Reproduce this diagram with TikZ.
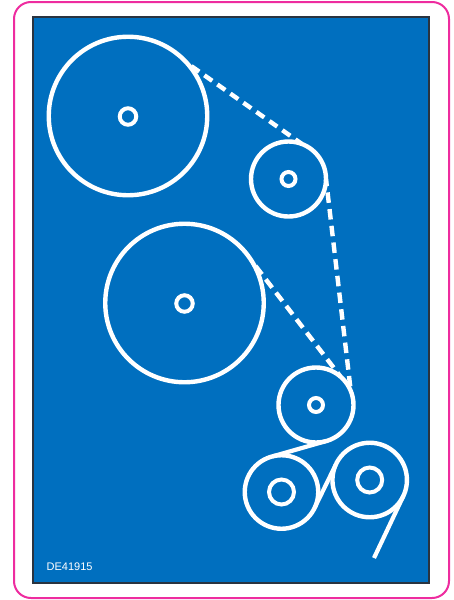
\documentclass[tikz,border=0pt]{standalone}
\usepackage{fontspec}
\setmainfont{Liberation Sans}
\definecolor{panelblue}{HTML}{006FBF}
\definecolor{trim}{HTML}{EE2C9F}
\definecolor{edge}{HTML}{2A3440}
\tikzset{
  wheel/.style={circle,draw=white,line width=4.4pt,inner sep=0pt,outer sep=0pt,minimum size=#1},
  hub/.style={circle,draw=white,line width=4pt,inner sep=0pt,outer sep=0pt,minimum size=#1},
  belt/.style={draw=white,line width=4.2pt},
  slack/.style={draw=white,line width=4.4pt,dash pattern=on 10.5pt off 6.3pt},
}
\begin{document}
\begin{tikzpicture}[x=1pt,y=-1pt]
\useasboundingbox (0,0) rectangle (454,600);
\fill[white] (0,0) rectangle (454,600);
\draw[trim,line width=2pt,rounded corners=17pt] (14,2) rectangle (449,598);
\fill[panelblue,draw=edge,line width=1.4pt] (33,17) rectangle (429,583);
\node[wheel=158.5pt] (big1) at (128,116) {};
\node[hub=16.5pt] (hub1) at (128,116.5) {};
\node[wheel=75pt] (mid1) at (288.5,179) {};
\node[hub=14pt] (hub2) at (288.5,179) {};
\node[wheel=158.5pt] (big2) at (184.5,303) {};
\node[hub=16.5pt] (hub3) at (184.5,303.5) {};
\node[wheel=75pt] (mid2) at (316,405) {};
\node[hub=14pt] (hub4) at (316,405) {};
\node[wheel=73.5pt] (low1) at (281.5,492) {};
\node[hub=25pt] (hub5) at (281.5,492) {};
\node[wheel=74.5pt] (low2) at (369.7,480) {};
\node[hub=25pt] (hub6) at (369.7,480) {};
\coordinate (tail) at (374,558);
\path[slack,dash pattern=on 9.6pt off 6.3pt,dash phase=10.4pt] (big1.42) -- (mid1.69);
\path[slack,dash phase=3.3pt] (mid1.0) -- (mid2.22);
\path[slack,dash phase=10.5pt] (big2.32) -- (mid2.49);
\path[belt] (mid2.-76) -- (low1.104);
\path[belt] (low1.-24) -- (low2.156);
\path[belt] (low2.-25.6) -- (tail);
\node[text=white,anchor=base west,inner sep=0pt,font=\fontsize{11pt}{12pt}\selectfont] (code) at (46.5,570.5) {DE41915};
\end{tikzpicture}
\end{document}
